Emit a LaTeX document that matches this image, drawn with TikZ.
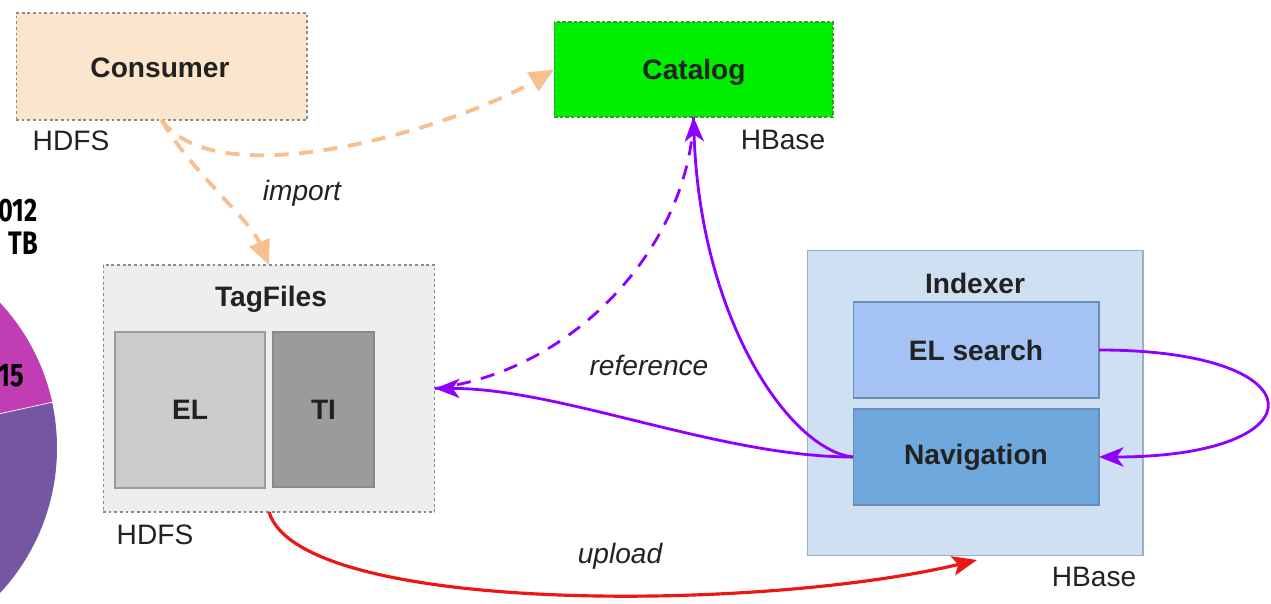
\documentclass[tikz,border=0pt]{standalone}
\usepackage{fontspec}
\setmainfont{Liberation Sans}
\newfontfamily\piefont[FakeStretch=0.78]{Fira Sans}
\usetikzlibrary{arrows.meta}

\definecolor{peach}{HTML}{FCE5CD}
\definecolor{peachline}{HTML}{F7C090}
\definecolor{brightgreen}{HTML}{00EE00}
\definecolor{greenedge}{HTML}{2FA02F}
\definecolor{panelgrey}{HTML}{EEEEEE}
\definecolor{elgrey}{HTML}{CCCCCC}
\definecolor{tigrey}{HTML}{9B9B9B}
\definecolor{boxedge}{HTML}{8A8A8A}
\definecolor{indexerbg}{HTML}{CFE0F2}
\definecolor{indexeredge}{HTML}{9DAFC2}
\definecolor{searchbg}{HTML}{A4C2F4}
\definecolor{navbg}{HTML}{6FA8DC}
\definecolor{blueedge}{HTML}{6C8CB8}
\definecolor{violet}{HTML}{8F00FF}
\definecolor{linkred}{HTML}{EE1515}
\definecolor{ink}{HTML}{222222}
\definecolor{piemagenta}{HTML}{C03DB4}
\definecolor{piepurple}{HTML}{7456A2}

\tikzset{
  txt/.style={font=\fontsize{16}{19}\selectfont, text=ink, inner sep=0pt},
  boldtxt/.style={txt, font=\fontsize{16}{19}\selectfont\bfseries},
  ittxt/.style={txt, font=\fontsize{16}{19}\selectfont\itshape},
  box/.style={inner sep=0pt, outer sep=0pt, line width=0.6pt},
  dottedbox/.style={box, draw=boxedge, dash pattern=on 1.6pt off 1.6pt},
  orangelink/.style={draw=peachline, line width=2.2pt, dash pattern=on 8pt off 6pt,
    -{Triangle[length=14pt,width=12pt]}},
  violetlink/.style={draw=violet, line width=1.6pt,
    -{Stealth[length=14pt,width=11pt,inset=4pt]}},
  redlink/.style={draw=linkred, line width=1.8pt,
    -{Stealth[length=14pt,width=11pt,inset=3pt]}},
  pietxt/.style={font=\piefont\fontsize{18.5}{21}\selectfont\bfseries, text=black, inner sep=0pt, anchor=east}
}

\begin{document}
\begin{tikzpicture}[x=0.02cm, y=-0.02cm]
  \useasboundingbox[fill=white] (0,0) rectangle (1271,604);

  % pie chart cut by the left edge
  \begin{scope}
    \clip (0,0) rectangle (1271,604);
    \fill[piepurple] (-156,448) circle (213);
    \fill[piemagenta] (-156,448) -- ++(-12.4:213) arc[start angle=-12.4, end angle=-170, radius=213] -- cycle;
    \draw[white, line width=0.4pt] (-156,448) -- ++(-12.4:213);
    \node[pietxt] (yr) at (38,211) {012};
    \node[pietxt] (tb) at (38,243) {TB};
    \node[pietxt] (pct) at (24,376) {15};
  \end{scope}

  % boxes
  \node[dottedbox, fill=peach, minimum width=5.82cm, minimum height=2.14cm] (consumer) at (161.5,66.5) {};
  \node[boldtxt] (consumerlbl) at (160,68) {Consumer};
  \node[txt] (hdfs1) at (71,141) {HDFS};

  \node[box, fill=brightgreen, draw=greenedge, dash pattern=on 2pt off 1.2pt, minimum width=5.58cm, minimum height=1.9cm] (catalog) at (693.5,69.5) {};
  \node[boldtxt] (cataloglbl) at (694,72) {Catalog};
  \node[txt] (hbase1) at (783,140) {HBase};

  \node[dottedbox, fill=panelgrey, minimum width=6.64cm, minimum height=4.94cm] (tagfiles) at (269,388.5) {};
  \node[boldtxt] (tagfileslbl) at (271,299) {TagFiles};
  \node[box, fill=elgrey, draw=tigrey, minimum width=3.0cm, minimum height=3.12cm] (el) at (190,410) {};
  \node[boldtxt] at (el) {EL};
  \node[box, fill=tigrey, draw=boxedge, minimum width=2.02cm, minimum height=3.1cm] (ti) at (323.5,409.5) {};
  \node[boldtxt] at (ti) {TI};
  \node[txt] (hdfs2) at (155,535) {HDFS};

  \node[box, fill=indexerbg, draw=indexeredge, minimum width=6.72cm, minimum height=6.12cm] (indexer) at (975,403) {};
  \node[boldtxt] (indexerlbl) at (975,283) {Indexer};
  \node[box, fill=searchbg, draw=blueedge, minimum width=4.92cm, minimum height=1.92cm] (elsearch) at (976,350) {};
  \node[boldtxt] at (elsearch) {EL search};
  \node[box, fill=navbg, draw=blueedge, minimum width=4.92cm, minimum height=1.92cm] (navigation) at (976,457) {};
  \node[boldtxt] at (navigation) {Navigation};
  \node[txt] (hbase2) at (1094,577) {HBase};

  % connectors
  \draw[orangelink] (consumer.south) .. controls (220,200) and (460,125) .. (catalog.west);
  \draw[orangelink] (consumer.south) .. controls (190,170) and (250,220) .. (tagfiles.north);
  \node[ittxt] (importlbl) at (302,193) {import};

  \draw[violetlink, -] (catalog.south) .. controls (690,240) and (580,370) .. (tagfiles.east)
    [dash pattern=on 8pt off 6pt];
  \draw[violetlink] (navigation.west) .. controls (790,450) and (700,320) .. (catalog.south);
  \draw[violetlink] (navigation.west) .. controls (720,457) and (560,388) .. (tagfiles.east);
  \node[ittxt] (reflbl) at (649,365) {reference};

  \draw[violetlink] (elsearch.east) .. controls (1322,350) and (1322,457) .. (navigation.east);

  \coordinate (uploadend) at (977,560);
  \draw[redlink] (tagfiles.south) .. controls (300,615) and (760,612) .. (uploadend);
  \node[ittxt] (uploadlbl) at (620,556) {upload};
\end{tikzpicture}
\end{document}
